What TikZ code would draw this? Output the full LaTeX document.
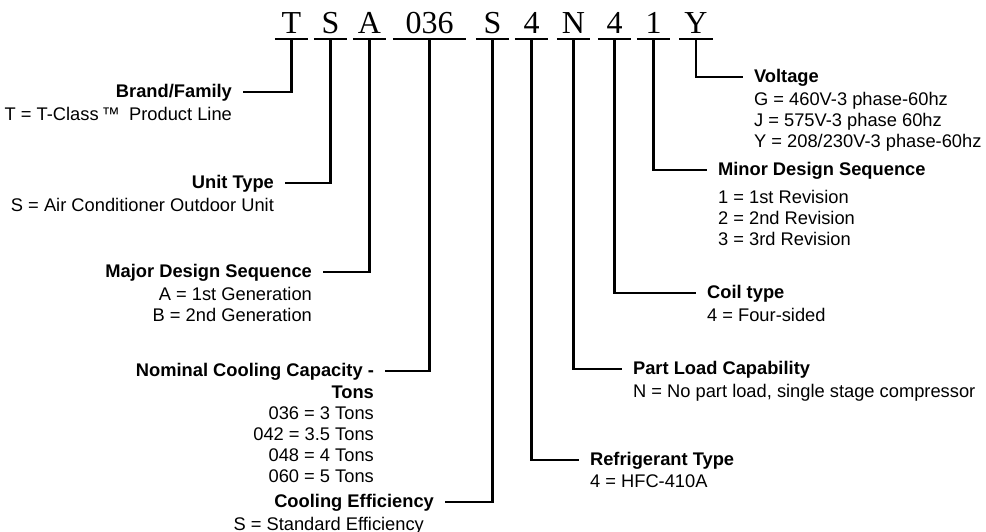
\documentclass[tikz,border=0pt]{standalone}
\usepackage{fontspec}
\setmainfont{Liberation Sans}
\newfontfamily\codefont{Liberation Serif}
\usetikzlibrary{positioning}

\begin{document}
\begin{tikzpicture}[x=0.5pt,y=-0.5pt,line width=1.1pt,
    code/.style={font=\codefont\fontsize{16}{16}\selectfont,inner sep=0pt,
      minimum width=15.5pt,text height=11pt,text depth=2.5pt,anchor=base},
    head/.style={font=\fontsize{9.15}{10.5}\selectfont\bfseries,inner xsep=5pt,
      inner ysep=0pt,text height=7pt,text depth=2pt},
    desc/.style={font=\fontsize{9.15}{10.5}\selectfont,inner xsep=5pt,inner ysep=0pt},
    lead/.style={draw,line width=1.1pt}]
  \useasboundingbox (0,0) rectangle (986,531);

  % model number
  \node[code] (T)   at (291.5,33) {T};
  \node[code] (S)   at (330.5,33) {S};
  \node[code] (A)   at (369.5,33) {A};
  \node[code,minimum width=35.5pt] (cap) at (429.5,33) {036};
  \node[code] (E)   at (492.5,33) {S};
  \node[code] (R)   at (531.5,33) {4};
  \node[code] (N)   at (573.5,33) {N};
  \node[code] (C)   at (614.5,33) {4};
  \node[code] (M)   at (653.5,33) {1};
  \node[code] (V)   at (696,33)   {Y};
  \foreach \c in {T,S,A,cap,E,R,N,C,M,V}
    \draw (\c.south west) -- (\c.south east);

  % left hand side
  \node[head,anchor=east] (brand) at (243,92) {Brand/Family};
  \node[desc,align=right,anchor=north east] (brandtxt) at ([yshift=-1.8pt]brand.south east)
    {T = T-Class\,™\enspace Product Line};
  \node[head,anchor=east] (unit) at (285,183) {Unit Type};
  \node[desc,align=right,anchor=north east] (unittxt) at ([yshift=-1.8pt]unit.south east)
    {S = Air Conditioner Outdoor Unit};
  \node[head,anchor=east] (major) at (323,272) {Major Design Sequence};
  \node[desc,align=right,anchor=north east] (majortxt) at ([yshift=-1.8pt]major.south east)
    {A = 1st Generation\\B = 2nd Generation};
  \node[head,anchor=east] (tons) at (385,371) {Nominal Cooling Capacity -};
  \node[desc,align=right,anchor=north east] (tonstxt) at ([yshift=-1.8pt]tons.south east)
    {\textbf{Tons}\\036 = 3 Tons\\042 = 3.5 Tons\\048 = 4 Tons\\060 = 5 Tons};
  \node[head,anchor=east] (eff) at (445,502) {Cooling Efficiency};
  \node[desc,align=right,anchor=north east] (efftxt) at ([xshift=-5pt,yshift=-1.8pt]eff.south east)
    {S = Standard Efficiency};

  % right hand side
  \node[head,anchor=west] (volt) at (743,77) {Voltage};
  \node[desc,align=left,anchor=north west] (volttxt) at ([yshift=-1.8pt]volt.south west)
    {G = 460V-3 phase-60hz\\J = 575V-3 phase 60hz\\Y = 208/230V-3 phase-60hz};
  \node[head,anchor=west] (minor) at (707,170) {Minor Design Sequence};
  \node[desc,align=left,anchor=north west] (minortxt) at ([yshift=-4.3pt]minor.south west)
    {1 = 1st Revision\\2 = 2nd Revision\\3 = 3rd Revision};
  \node[head,anchor=west] (coil) at (696,293) {Coil type};
  \node[desc,align=left,anchor=north west] (coiltxt) at ([yshift=-1.8pt]coil.south west)
    {4 = Four-sided};
  \node[head,anchor=west] (load) at (622,369) {Part Load Capability};
  \node[desc,align=left,anchor=north west] (loadtxt) at ([yshift=-1.8pt]load.south west)
    {N = No part load, single stage compressor};
  \node[head,anchor=west] (refr) at (579,460) {Refrigerant Type};
  \node[desc,align=left,anchor=north west] (refrtxt) at ([yshift=-1.8pt]refr.south west)
    {4 = HFC-410A};

  % leaders
  \path[lead] (T.south)   |- (brand.east);
  \path[lead] (S.south)   |- (unit.east);
  \path[lead] (A.south)   |- (major.east);
  \path[lead] (cap.south) |- (tons.east);
  \path[lead] (E.south)   |- (eff.east);
  \path[lead] (R.south)   |- (refr.west);
  \path[lead] (N.south)   |- (load.west);
  \path[lead] (C.south)   |- (coil.west);
  \path[lead] (M.south)   |- (minor.west);
  \path[lead] (V.south)   |- (volt.west);
\end{tikzpicture}
\end{document}
